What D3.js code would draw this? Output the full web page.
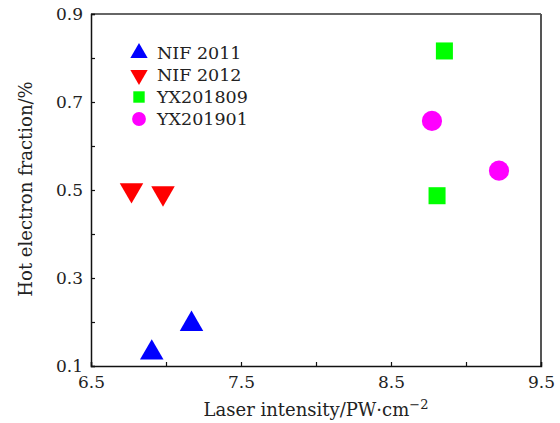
<!DOCTYPE html>
<html>
<head>
<meta charset="utf-8">
<script src="https://cdn.jsdelivr.net/npm/d3@7"></script>
<style>
  body { margin: 0; background: #fff; }
  text { font-family: "DejaVu Serif", serif; fill: #222; }
</style>
</head>
<body>
<svg id="chart" width="560" height="423"></svg>
<script>
// data
var seriesNames = ["NIF 2011", "NIF 2012", "YX201809", "YX201901"];
var seriesColors = ["#0000ff", "#ff0000", "#00ff00", "#ff00ff"];
var seriesShapes = ["up", "down", "square", "circle"];

var nif2011X = [6.905, 7.17];
var nif2011Y = [0.13, 0.195];
var nif2012X = [6.77, 6.98];
var nif2012Y = [0.50, 0.493];
var yx1809X = [8.856, 8.807];
var yx1809Y = [0.816, 0.487];
var yx1901X = [8.773, 9.22];
var yx1901Y = [0.657, 0.544];

var xTicks = [6.5, 7, 7.5, 8, 8.5, 9, 9.5];
var yTicks = [0.1, 0.2, 0.3, 0.4, 0.5, 0.6, 0.7, 0.8, 0.9];
var xLabels = [6.5, 7.5, 8.5, 9.5];
var yLabels = [0.1, 0.3, 0.5, 0.7, 0.9];

var svg = d3.select("#chart");
var plotL = 91, plotR = 541, plotT = 14, plotB = 366;

var x = d3.scaleLinear().domain([6.5, 9.5]).range([plotL, plotR]);
var y = d3.scaleLinear().domain([0.1, 0.9]).range([plotB, plotT]);

// frame: top and right
svg.append("line").attr("x1", plotL).attr("x2", plotR).attr("y1", plotT).attr("y2", plotT)
  .attr("stroke", "#333").attr("stroke-width", 1.5);
svg.append("line").attr("x1", plotR).attr("x2", plotR).attr("y1", plotT).attr("y2", plotB)
  .attr("stroke", "#555").attr("stroke-width", 2);

// axes with inward ticks
var xAxis = d3.axisBottom(x).tickValues(xTicks).tickSize(-4)
  .tickFormat(d => xLabels.includes(d) ? d3.format(".1f")(d) : "");
var yAxis = d3.axisLeft(y).tickValues(yTicks).tickSize(-4)
  .tickFormat(d => yLabels.includes(+d.toFixed(1)) ? d3.format(".1f")(d) : "");

var gx = svg.append("g").attr("transform", "translate(0," + plotB + ")").call(xAxis);
var gy = svg.append("g").attr("transform", "translate(" + plotL + ",0)").call(yAxis);

[gx, gy].forEach(g => {
  g.select(".domain").attr("stroke", "#111").attr("stroke-width", 1.5);
  g.selectAll(".tick line").attr("stroke", "#111").attr("stroke-width", 1.2);
  g.selectAll(".tick text").style("font-family", "DejaVu Serif").style("font-size", "17px").attr("fill", "#222");
});
gx.selectAll(".tick text").attr("y", 10);
gy.selectAll(".tick text").attr("x", -8);

// axis titles
svg.append("text").attr("x", 316).attr("y", 416).attr("text-anchor", "middle")
  .style("font-size", "18px")
  .html('Laser intensity/PW·cm<tspan dy="-7" font-size="13">−2</tspan>');
svg.append("text").attr("transform", "translate(32,189) rotate(-90)")
  .attr("text-anchor", "middle").style("font-size", "18px")
  .text("Hot electron fraction/%");

// markers
function shapePath(shape, size) {
  if (shape === "up") return d3.symbol().type(d3.symbolTriangle).size(size)();
  if (shape === "down") return d3.symbol().type(d3.symbolTriangle).size(size)();
  if (shape === "square") return d3.symbol().type(d3.symbolSquare).size(size)();
  return d3.symbol().type(d3.symbolCircle).size(size)();
}
var markSize = [240, 240, 290, 320];

var allSeries = [
  [nif2011X, nif2011Y],
  [nif2012X, nif2012Y],
  [yx1809X, yx1809Y],
  [yx1901X, yx1901Y]
];

allSeries.forEach((s, i) => {
  var pts = s[0].map((v, j) => [v, s[1][j]]);
  svg.append("g").selectAll("path").data(pts).enter().append("path")
    .attr("d", shapePath(seriesShapes[i], markSize[i]))
    .attr("transform", d => "translate(" + x(d[0]) + "," + y(d[1]) + ")" + (seriesShapes[i] === "down" ? " rotate(180)" : ""))
    .attr("fill", seriesColors[i]);
});

// legend
var legend = svg.append("g");
seriesNames.forEach((name, i) => {
  var ly = 53 + i * 22;
  var legSize = [130, 130, 130, 150];
  legend.append("path")
    .attr("d", shapePath(seriesShapes[i], legSize[i]))
    .attr("transform", "translate(139," + ly + ")" + (seriesShapes[i] === "down" ? " rotate(180)" : ""))
    .attr("fill", seriesColors[i]);
  legend.append("text").attr("x", 157).attr("y", ly + 6)
    .style("font-size", "17.5px").text(name);
});
</script>
</body>
</html>
